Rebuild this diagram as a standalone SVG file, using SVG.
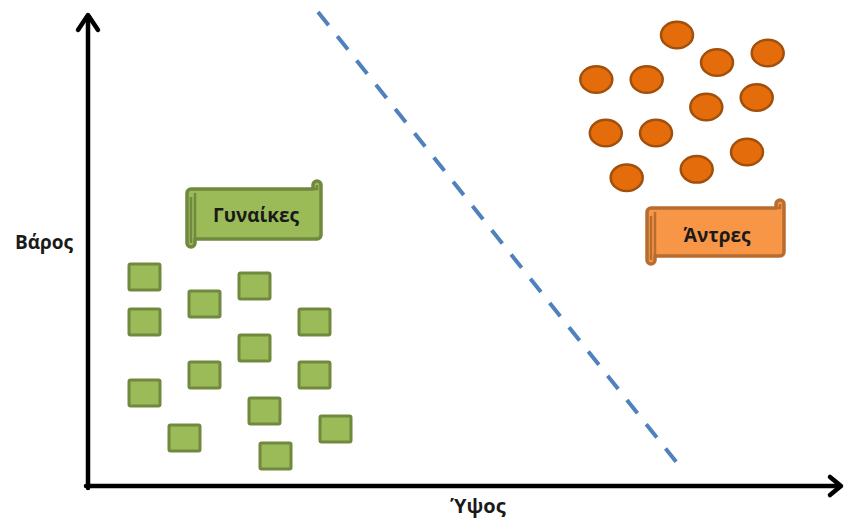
<svg xmlns="http://www.w3.org/2000/svg" width="845" height="518" viewBox="0 0 845 518">
  <style>
    .axis { stroke: #000; stroke-width: 4.5; fill: none; stroke-linecap: round; stroke-linejoin: round; }
    .sq { fill: #9BBB59; stroke: #71893F; stroke-width: 3; }
    .dot { fill: #E46C0A; stroke: #A04F0C; stroke-width: 2.5; }
    .lbl { font-family: "Open Sans", "Noto Sans", "Liberation Sans", sans-serif; font-weight: bold; fill: #1a1a1a; }
    .scroll-g { fill: #9BBB59; stroke: #71893F; stroke-width: 3.5; stroke-linejoin: round; }
    .scroll-o { fill: #F79646; stroke: #B66D31; stroke-width: 3.5; stroke-linejoin: round; }
    .curl { fill: none; stroke-width: 2.5; }
  </style>
  <rect width="845" height="518" fill="#fff"/>

  <!-- axes -->
  <g id="axes">
    <path class="axis" d="M88,488 V16"/>
    <path class="axis" d="M78,30 L88,15 L98,30"/>
    <path class="axis" d="M86,486 H840"/>
    <path class="axis" d="M830,477 L841,486 L830,495"/>
    <text class="lbl" x="44" y="249" font-size="19" text-anchor="middle">Βάρος</text>
    <text class="lbl" x="478" y="513" font-size="20" text-anchor="middle">Ύψος</text>
  </g>

  <!-- separating line -->
  <g id="connectors">
    <path d="M318,12 L681,468" stroke="#4F81BD" stroke-width="4" stroke-dasharray="17 14" fill="none"/>
  </g>

  <!-- women cluster -->
  <g id="women">
    <rect class="sq" x="129" y="264" width="31" height="26" rx="1.5"/>
    <rect class="sq" x="189" y="291" width="31" height="26" rx="1.5"/>
    <rect class="sq" x="239" y="273" width="31" height="26" rx="1.5"/>
    <rect class="sq" x="129" y="309" width="31" height="26" rx="1.5"/>
    <rect class="sq" x="299" y="309" width="31" height="26" rx="1.5"/>
    <rect class="sq" x="239" y="335" width="31" height="26" rx="1.5"/>
    <rect class="sq" x="189" y="362" width="31" height="26" rx="1.5"/>
    <rect class="sq" x="299" y="362" width="31" height="26" rx="1.5"/>
    <rect class="sq" x="129" y="380" width="31" height="26" rx="1.5"/>
    <rect class="sq" x="249" y="398" width="31" height="26" rx="1.5"/>
    <rect class="sq" x="169" y="425" width="31" height="26" rx="1.5"/>
    <rect class="sq" x="320" y="416" width="31" height="26" rx="1.5"/>
    <rect class="sq" x="260" y="443" width="31" height="26" rx="1.5"/>
  </g>

  <!-- men cluster -->
  <g id="men">
    <ellipse class="dot" cx="677" cy="35" rx="16" ry="13.3"/>
    <ellipse class="dot" cx="717" cy="62.5" rx="16" ry="13.3"/>
    <ellipse class="dot" cx="767.7" cy="53" rx="16" ry="13.3"/>
    <ellipse class="dot" cx="596.3" cy="79.5" rx="16" ry="13.3"/>
    <ellipse class="dot" cx="646.7" cy="79.5" rx="16" ry="13.3"/>
    <ellipse class="dot" cx="706.3" cy="107" rx="16" ry="13.3"/>
    <ellipse class="dot" cx="756.7" cy="97.5" rx="16" ry="13.3"/>
    <ellipse class="dot" cx="605.8" cy="133" rx="16" ry="13.3"/>
    <ellipse class="dot" cx="656" cy="133" rx="16" ry="13.3"/>
    <ellipse class="dot" cx="747" cy="152" rx="16" ry="13.3"/>
    <ellipse class="dot" cx="626.7" cy="177.7" rx="16" ry="13.3"/>
    <ellipse class="dot" cx="696.7" cy="169.3" rx="16" ry="13.3"/>
  </g>

  <!-- label scroll: women -->
  <g id="label-women">
    <path class="scroll-g" d="M187,193 A4,4 0 0 1 191,189 L313,189 L313,185 A4,4 0 0 1 321,185 L321,235 A4,4 0 0 1 317,239 L195,239 L195,243 A4,4 0 0 1 187,243 Z"/>
    <path class="curl" stroke="#71893F" d="M195,193 V239 M191,197 V243 M313,189 H317 V185"/>
    <text class="lbl" x="256" y="222" font-size="19" text-anchor="middle">Γυναίκες</text>
  </g>

  <!-- label scroll: men -->
  <g id="label-men">
    <path class="scroll-o" d="M647,212 A4,4 0 0 1 651,208 L776,208 L776,204 A4,4 0 0 1 784,204 L784,252 A4,4 0 0 1 780,256 L655,256 L655,260 A4,4 0 0 1 647,260 Z"/>
    <path class="curl" stroke="#B66D31" d="M655,212 V256 M651,216 V260 M776,208 H780 V204"/>
    <text class="lbl" x="717" y="242" font-size="19" text-anchor="middle">Άντρες</text>
  </g>
</svg>
